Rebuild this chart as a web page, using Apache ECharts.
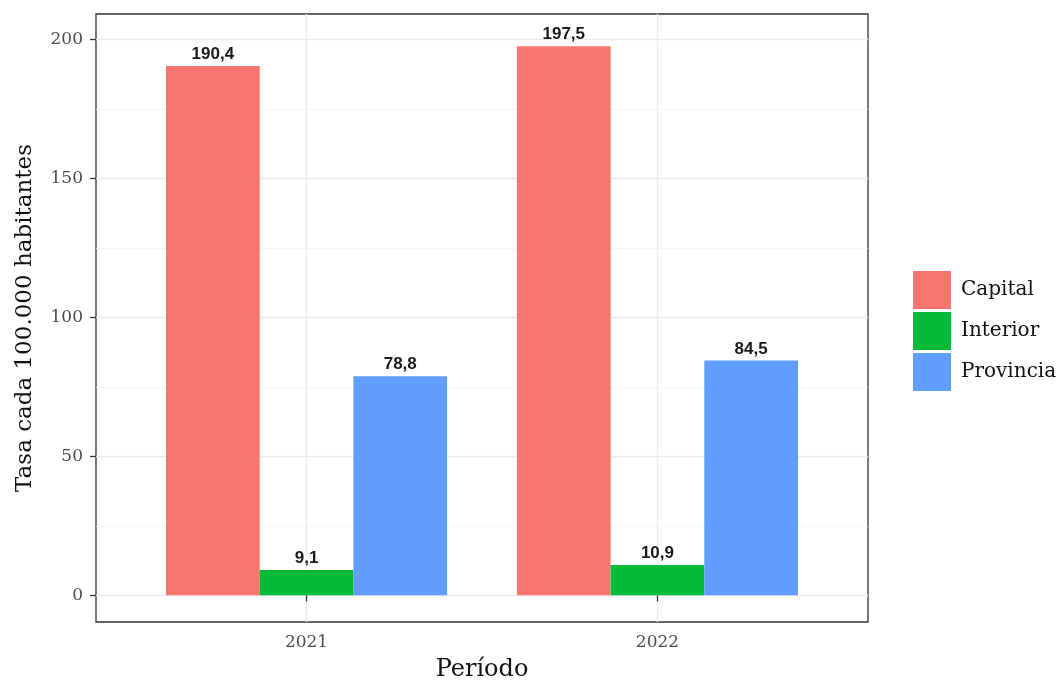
<!DOCTYPE html>
<html>
<head>
<meta charset="utf-8">
<script src="https://cdn.jsdelivr.net/npm/echarts@6/dist/echarts.min.js"></script>
<style>
  html, body { margin: 0; padding: 0; background: #fff; }
  #chart { width: 1061px; height: 685px; }
</style>
</head>
<body>
<div id="chart"></div>
<script>
// periods on the x axis (placed at positions 1, 2 like ggplot's discrete scale)
const periods = ['2021', '2022'];
const capital = [190.4, 197.5];
const interior = [9.1, 10.9];
const provincia = [78.8, 84.5];
const seriesNames = ['Capital', 'Interior', 'Provincia'];
const yTicks = [0, 50, 100, 150, 200];
const yMinorTicks = [25, 75, 125, 175];

const colors = ['#F8766D', '#00BA38', '#619CFF'];
const serif = '"DejaVu Serif", serif';
const xPos = periods.map((p, i) => i + 1);

function pairs(vals) {
  return vals.map((v, i) => [xPos[i], v]);
}

function barSeries(name, vals, color) {
  return {
    name: name,
    type: 'bar',
    data: pairs(vals),
    barWidth: '26.7%',
    barGap: '0%',
    itemStyle: { color: color },
    label: {
      show: true,
      position: 'top',
      distance: 3,
      color: '#1a1a1a',
      fontFamily: '"Liberation Sans", Arial, sans-serif',
      fontWeight: 'bold',
      fontSize: 17,
      formatter: p => p.value[1].toFixed(1).replace('.', ',')
    }
  };
}

const chart = echarts.init(document.getElementById('chart'));
chart.setOption({
  animation: false,
  backgroundColor: '#fff',
  grid: {
    left: 96, top: 14, width: 772, height: 608,
    outerBoundsMode: 'none',
    containLabel: false,
    show: true, borderColor: '#333', borderWidth: 1.3, backgroundColor: '#fff'
  },
  legend: {
    orient: 'vertical',
    left: 908, top: 266,
    itemWidth: 38, itemHeight: 38, itemGap: 3,
    icon: 'rect',
    data: seriesNames,
    textStyle: { fontFamily: serif, fontSize: 20, color: '#111', padding: [0, 0, 0, 5] }
  },
  xAxis: {
    type: 'value',
    min: 0.4, max: 2.6,
    name: 'Período',
    nameLocation: 'middle',
    nameGap: 36,
    nameTextStyle: { fontFamily: serif, fontSize: 24, color: '#111' },
    axisLine: { show: false },
    axisTick: { show: true, length: 6, customValues: xPos, lineStyle: { color: '#333', width: 1.3 } },
    axisLabel: {
      customValues: xPos,
      margin: 12,
      fontFamily: serif, fontSize: 17, color: '#4D4D4D',
      formatter: v => periods[Math.round(v) - 1] || ''
    },
    splitLine: { show: true, customValues: xPos, lineStyle: { color: '#EBEBEB', width: 1.3 } }
  },
  yAxis: [{
    type: 'value',
    min: -9.6, max: 209.1,
    name: 'Tasa cada 100.000 habitantes',
    nameLocation: 'middle',
    nameGap: 59,
    nameTextStyle: { fontFamily: serif, fontSize: 23, color: '#111' },
    axisLine: { show: false },
    axisTick: { show: true, length: 6, customValues: yTicks, lineStyle: { color: '#333', width: 1.3 } },
    axisLabel: {
      customValues: yTicks,
      margin: 13,
      fontFamily: serif, fontSize: 17, color: '#4D4D4D'
    },
    splitLine: { show: true, customValues: yTicks, lineStyle: { color: '#EBEBEB', width: 1.3 } }
  }, {
    type: 'value',
    min: -9.6, max: 209.1,
    position: 'left',
    axisLine: { show: false },
    axisTick: { show: false, customValues: yMinorTicks },
    axisLabel: { show: false, customValues: yMinorTicks },
    splitLine: { show: true, customValues: yMinorTicks, lineStyle: { color: '#F2F2F2', width: 0.8 } }
  }],
  series: [
    barSeries(seriesNames[0], capital, colors[0]),
    barSeries(seriesNames[1], interior, colors[1]),
    barSeries(seriesNames[2], provincia, colors[2])
  ]
});
</script>
</body>
</html>
